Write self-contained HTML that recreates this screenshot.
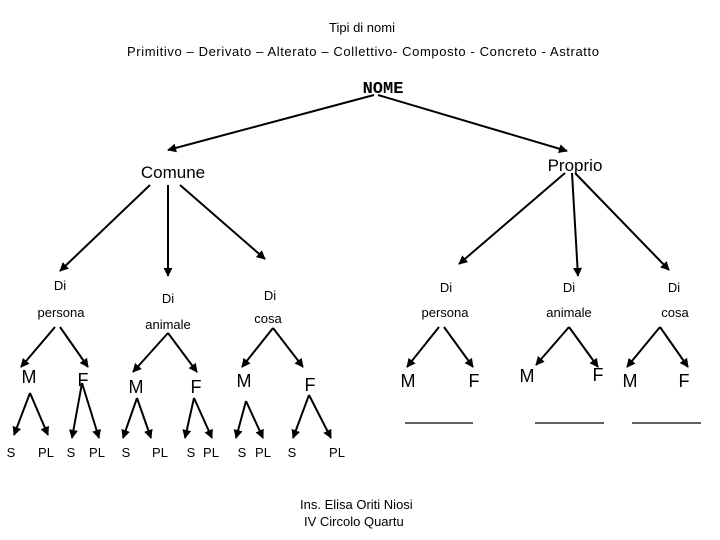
<!DOCTYPE html>
<html><head><meta charset="utf-8"><style>
html,body{margin:0;padding:0;background:#fff;}
svg{display:block;}
text{font-family:"Liberation Sans",sans-serif;fill:#000;}
.s{font-size:13px;}
.b{font-size:18px;}
</style></head><body>
<svg width="720" height="540" viewBox="0 0 720 540" xmlns="http://www.w3.org/2000/svg">
<defs><marker id="a" viewBox="0 0 10 10" refX="9" refY="5" markerWidth="4.5" markerHeight="4.5" orient="auto"><path d="M0,0 L10,5 L0,10 z" fill="#000"/></marker></defs>
<text x="362" y="32" class="s" text-anchor="middle">Tipi di nomi</text>
<text x="363" y="56" class="s" text-anchor="middle" textLength="472">Primitivo – Derivato – Alterato   – Collettivo- Composto  - Concreto - Astratto</text>
<text x="383" y="93" text-anchor="middle" style="font-family:'Liberation Mono',monospace;font-weight:bold;font-size:17px">NOME</text>
<text x="173" y="178" text-anchor="middle" style="font-size:17px">Comune</text>
<text x="575" y="171" text-anchor="middle" style="font-size:17px">Proprio</text>
<g stroke="#000" stroke-width="2" marker-end="url(#a)" fill="none">
<line x1="374" y1="95" x2="168" y2="150"/>
<line x1="378" y1="95" x2="567" y2="151"/>
<line x1="150" y1="185" x2="60" y2="271"/>
<line x1="168" y1="185" x2="168" y2="276"/>
<line x1="180" y1="185" x2="265" y2="259"/>
<line x1="565" y1="173" x2="459" y2="264"/>
<line x1="572" y1="173" x2="578" y2="276"/>
<line x1="575" y1="173" x2="669" y2="270"/>
<line x1="55" y1="327" x2="21" y2="367"/>
<line x1="60" y1="327" x2="88" y2="367"/>
<line x1="30" y1="393" x2="14" y2="435"/>
<line x1="30" y1="393" x2="48" y2="435"/>
<line x1="82" y1="383" x2="72" y2="438"/>
<line x1="82" y1="383" x2="99" y2="438"/>
<line x1="168" y1="333" x2="133" y2="372"/>
<line x1="168" y1="333" x2="197" y2="372"/>
<line x1="137" y1="398" x2="123" y2="438"/>
<line x1="137" y1="398" x2="151" y2="438"/>
<line x1="194" y1="398" x2="185" y2="438"/>
<line x1="194" y1="398" x2="212" y2="438"/>
<line x1="273" y1="328" x2="242" y2="367"/>
<line x1="273" y1="328" x2="303" y2="367"/>
<line x1="246" y1="401" x2="236" y2="438"/>
<line x1="246" y1="401" x2="263" y2="438"/>
<line x1="309" y1="395" x2="293" y2="438"/>
<line x1="309" y1="395" x2="331" y2="438"/>
<line x1="439" y1="327" x2="407" y2="367"/>
<line x1="444" y1="327" x2="473" y2="367"/>
<line x1="569" y1="327" x2="536" y2="365"/>
<line x1="569" y1="327" x2="598" y2="367"/>
<line x1="660" y1="327" x2="627" y2="367"/>
<line x1="660" y1="327" x2="688" y2="367"/>
</g>
<g stroke="#000" stroke-width="1.3">
<line x1="405" y1="423" x2="473" y2="423"/>
<line x1="535" y1="423" x2="604" y2="423"/>
<line x1="632" y1="423" x2="701" y2="423"/>
</g>
<g class="s" text-anchor="middle">
<text x="60" y="290" class="s">Di</text>
<text x="61" y="317" class="s">persona</text>
<text x="168" y="303" class="s">Di</text>
<text x="168" y="329" class="s">animale</text>
<text x="270" y="300" class="s">Di</text>
<text x="268" y="323" class="s">cosa</text>
<text x="446" y="292" class="s">Di</text>
<text x="445" y="317" class="s">persona</text>
<text x="569" y="292" class="s">Di</text>
<text x="569" y="317" class="s">animale</text>
<text x="674" y="292" class="s">Di</text>
<text x="675" y="317" class="s">cosa</text>
</g>
<g class="b" text-anchor="middle">
<text x="29" y="383" class="b">M</text>
<text x="83" y="386" class="b">F</text>
<text x="136" y="393" class="b">M</text>
<text x="196" y="393" class="b">F</text>
<text x="244" y="387" class="b">M</text>
<text x="310" y="391" class="b">F</text>
<text x="408" y="387" class="b">M</text>
<text x="474" y="387" class="b">F</text>
<text x="527" y="382" class="b">M</text>
<text x="598" y="381" class="b">F</text>
<text x="630" y="387" class="b">M</text>
<text x="684" y="387" class="b">F</text>
</g>
<g text-anchor="middle">
<text x="11" y="457" class="s">S</text>
<text x="46" y="457" class="s">PL</text>
<text x="71" y="457" class="s">S</text>
<text x="97" y="457" class="s">PL</text>
<text x="126" y="457" class="s">S</text>
<text x="160" y="457" class="s">PL</text>
<text x="191" y="457" class="s">S</text>
<text x="211" y="457" class="s">PL</text>
<text x="242" y="457" class="s">S</text>
<text x="263" y="457" class="s">PL</text>
<text x="292" y="457" class="s">S</text>
<text x="337" y="457" class="s">PL</text>
</g>
<text x="300" y="509" class="s">Ins. Elisa Oriti Niosi</text>
<text x="304" y="526" class="s">IV  Circolo Quartu</text>
</svg>
</body></html>
